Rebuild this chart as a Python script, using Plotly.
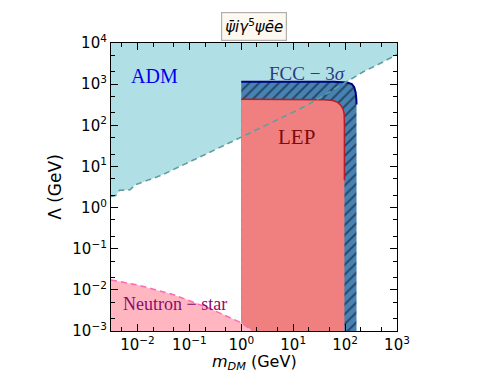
"""
Exclusion plot for the pseudoscalar-electron operator, log-log in m_DM and Lambda.
"""
import plotly.graph_objects as go

# ADM lower bound (dashed cadetblue line), region above it is excluded
ADM_M = [0.0031, 0.0038, 0.0045, 0.0072, 0.0089, 0.028, 0.16, 1.0, 5.5, 13.5, 32.0, 224.0, 468.0, 1000.0]
ADM_LAMBDA = [1.86, 1.95, 2.63, 2.7, 3.55, 6.0, 17.0, 52.0, 148.0, 250.0, 457.0, 2000.0, 3160.0, 5250.0]

# Neutron-star bound (dashed hotpink line), region below it is excluded
NS_M = [0.0031, 0.01, 0.05, 0.25, 1.0, 1.66]
NS_LAMBDA = [0.0174, 0.0132, 0.0076, 0.0035, 0.00158, 0.001]

# LEP boundary (top edge, rounded corner, right edge)
LEP_M = [1.0, 20.0, 40.0, 58.0, 72.0, 84.0, 92.0, 96.0, 97.0, 97.0]
LEP_LAMBDA = [430.0, 430.0, 420.0, 400.0, 360.0, 300.0, 240.0, 190.0, 100.0, 4.6]

# FCC 3-sigma reach boundary
FCC_M = [1.0, 60.0, 110.0, 135.0, 150.0, 160.0, 165.0, 166.0]
FCC_LAMBDA = [1150.0, 1150.0, 1100.0, 1000.0, 840.0, 620.0, 420.0, 320.0]

X_RANGE = [0.0031, 1000.0]
Y_RANGE = [0.001, 10000.0]

X_TICKS = [0.01, 0.1, 1, 10, 100, 1000]
X_TICK_TEXT = ["10<sup>−2</sup>", "10<sup>−1</sup>", "10<sup>0</sup>", "10<sup>1</sup>", "10<sup>2</sup>", "10<sup>3</sup>"]
Y_TICKS = [0.001, 0.01, 0.1, 1, 10, 100, 1000, 10000]
Y_TICK_TEXT = ["10<sup>−3</sup>", "10<sup>−2</sup>", "10<sup>−1</sup>", "10<sup>0</sup>",
               "10<sup>1</sup>", "10<sup>2</sup>", "10<sup>3</sup>", "10<sup>4</sup>"]

fig = go.Figure()

# ADM filled region (above the dashed line)
fig.add_trace(go.Scatter(
    x=ADM_M + [X_RANGE[1], X_RANGE[0]],
    y=ADM_LAMBDA + [Y_RANGE[1], Y_RANGE[1]],
    fill="toself", fillcolor="#b0e0e6", mode="none", hoverinfo="skip",
))

# FCC hatched region
fcc_x = [FCC_M[0]] + FCC_M + [FCC_M[-1], FCC_M[0]]
fcc_y = [Y_RANGE[0]] + FCC_LAMBDA + [Y_RANGE[0], Y_RANGE[0]]
fig.add_trace(go.Scatter(
    x=fcc_x, y=fcc_y, fill="toself", mode="none", hoverinfo="skip",
    fillcolor="#4682b4",
    fillpattern=dict(shape="/", fgcolor="black", bgcolor="#4682b4", size=7, solidity=0.25),
))

# LEP region
lep_x = [LEP_M[0]] + LEP_M + [LEP_M[-1], LEP_M[0]]
lep_y = [Y_RANGE[0]] + LEP_LAMBDA + [Y_RANGE[0], Y_RANGE[0]]
fig.add_trace(go.Scatter(
    x=lep_x, y=lep_y, fill="toself", fillcolor="#f08080", mode="none", hoverinfo="skip",
))
fig.add_trace(go.Scatter(
    x=LEP_M, y=LEP_LAMBDA, mode="lines", line=dict(color="#b81c26", width=1.5), hoverinfo="skip",
))
fig.add_trace(go.Scatter(
    x=FCC_M, y=FCC_LAMBDA, mode="lines", line=dict(color="#00007f", width=2), hoverinfo="skip",
))

# ADM dashed boundary
fig.add_trace(go.Scatter(
    x=ADM_M, y=ADM_LAMBDA, mode="lines", line=dict(color="#5f9ea0", width=1.6, dash="6px,4px"),
    hoverinfo="skip",
))

# Neutron star region
fig.add_trace(go.Scatter(
    x=NS_M + [X_RANGE[0]], y=NS_LAMBDA + [Y_RANGE[0]],
    fill="toself", fillcolor="#ffb6c1", mode="none", hoverinfo="skip",
))
fig.add_trace(go.Scatter(
    x=NS_M, y=NS_LAMBDA, mode="lines", line=dict(color="#ff69b4", width=1.5, dash="6px,4px"),
    hoverinfo="skip",
))

label_font = "Liberation Serif"
annotations = [
    dict(x=-1.67, y=3.2, text="ADM", font=dict(family=label_font, size=20, color="#0000ee")),
    dict(x=1.27, y=3.25, text="FCC − 3<i>σ</i>", font=dict(family=label_font, size=19, color="#2c3a80")),
    dict(x=1.06, y=1.71, text="LEP", font=dict(family=label_font, size=21, color="#7f0a0a")),
    dict(x=-1.27, y=-2.35, text="Neutron − star", font=dict(family=label_font, size=18, color="#8b0a6e")),
]
for a in annotations:
    a.update(xref="x", yref="y", showarrow=False)

# Title box
annotations.append(dict(
    x=0.5, y=1.0, xref="paper", yref="paper", xanchor="center", yanchor="bottom", yshift=2,
    text="<i>ψ̄iγ</i><sup>5</sup><i>ψēe</i>", showarrow=False,
    font=dict(family="DejaVu Sans", size=15, color="black"),
    bgcolor="#fdf8f0", bordercolor="#b0b0b0", borderwidth=1.2, borderpad=3,
))

# x-axis title placed by hand so the subscript stays inside the page
annotations.append(dict(
    x=0.5, y=-0.108, xref="paper", yref="paper", xanchor="center", yanchor="middle",
    text="<i>m</i><sub><i>DM</i></sub> (GeV)", showarrow=False,
    font=dict(family="DejaVu Sans", size=16, color="black"),
))

axis_common = dict(
    type="log", showgrid=False, zeroline=False,
    showline=True, linecolor="black", linewidth=1.2, mirror="allticks",
    ticks="inside", ticklen=7, tickwidth=1, tickcolor="black",
    minor=dict(ticks="inside", ticklen=3.5, tickwidth=0.8, tickcolor="black", showgrid=False),
    tickfont=dict(family="DejaVu Sans", size=15, color="black"),
)

# the page body keeps its default 8px margin, so the margins are shifted by 8px
fig.update_layout(
    width=496, height=372,
    margin=dict(l=103, r=107, t=35, b=49),
    paper_bgcolor="white", plot_bgcolor="white",
    showlegend=False,
    annotations=annotations,
    xaxis=dict(axis_common, range=[-2.51, 3], tickvals=X_TICKS, ticktext=X_TICK_TEXT),
    yaxis=dict(
        axis_common, range=[-3, 4], tickvals=Y_TICKS, ticktext=Y_TICK_TEXT,
        title=dict(text="Λ (GeV)", standoff=6,
                   font=dict(family="DejaVu Sans", size=17, color="black")),
    ),
)

fig.write_html("out.html")
